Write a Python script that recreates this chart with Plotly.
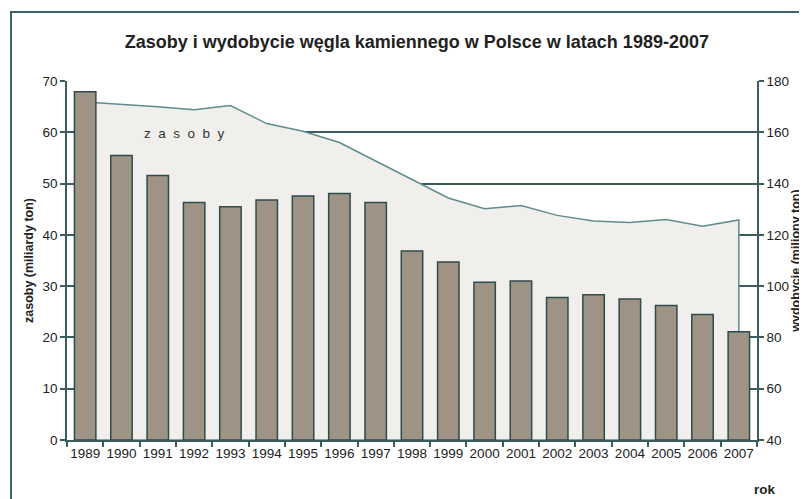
import plotly.graph_objects as go

years = ["1989", "1990", "1991", "1992", "1993", "1994", "1995", "1996", "1997", "1998",
         "1999", "2000", "2001", "2002", "2003", "2004", "2005", "2006", "2007"]
# wydobycie (miliony ton) - bars, right axis
wydobycie = [175.8, 150.9, 143.1, 132.6, 131.0, 133.6, 135.2, 136.1, 132.6, 113.7,
             109.4, 101.5, 102.0, 95.6, 96.6, 95.0, 92.5, 88.9, 82.2]
# zasoby (miliardy ton) - area, left axis
zasoby = [65.9, 65.5, 65.0, 64.4, 65.2, 61.7, 60.2, 58.0, 54.4, 50.8,
          47.2, 45.1, 45.7, 43.8, 42.7, 42.4, 43.0, 41.7, 42.9]

left_ticks = [0, 10, 20, 30, 40, 50, 60, 70]
right_ticks = [40, 60, 80, 100, 120, 140, 160, 180]
RIGHT_MIN = 40

DARK = "#3a5c5c"
FONT = "Liberation Sans, Arial, Helvetica, sans-serif"

fig = go.Figure()

# area as closed polygon (so that the right edge is outlined)
fig.add_trace(go.Scatter(
    x=years + [years[-1], years[0]],
    y=zasoby + [0, 0],
    mode="lines",
    fill="toself",
    fillcolor="#f0efeb",
    line=dict(color="#5f8c8c", width=1.5),
    yaxis="y",
    hoverinfo="skip",
    showlegend=False,
))

fig.add_trace(go.Bar(
    x=years,
    y=[v - RIGHT_MIN for v in wydobycie],
    base=RIGHT_MIN,
    yaxis="y2",
    marker=dict(color="#9f9385", line=dict(color="#2f4b4b", width=1.5)),
    showlegend=False,
))

# page body has an 8px margin -> figure sized/placed to compensate
fig.update_layout(
    width=799, height=491,
    margin=dict(l=59, r=50, t=73, b=59),
    paper_bgcolor="white",
    plot_bgcolor="white",
    bargap=0.41,
    font=dict(family=FONT, size=13, color="#222222"),
    title=dict(
        text="<b>Zasoby i wydobycie węgla kamiennego w Polsce w latach 1989-2007</b>",
        x=0.507, xanchor="center", xref="paper",
        y=1 - 34 / 491, yanchor="middle", yref="container",
        font=dict(family=FONT, size=18, color="#222222"),
    ),
    xaxis=dict(
        type="category",
        categoryorder="array", categoryarray=years,
        tickson="boundaries", tickangle=0, automargin=False,
        ticks="outside", ticklen=5, tickcolor=DARK, tickwidth=1.5,
        showline=True, linecolor=DARK, linewidth=1.5,
        showgrid=False,
        tickfont=dict(size=13.5, family=FONT, color="#222222"),
    ),
    yaxis=dict(
        range=[0, 70], tickvals=left_ticks, automargin=False,
        ticks="outside", ticklen=5, tickcolor=DARK, tickwidth=1.5,
        showline=True, linecolor=DARK, linewidth=1.5,
        showgrid=True, gridcolor=DARK, gridwidth=1.5,
        zeroline=False,
        tickfont=dict(size=13.5, family=FONT, color="#222222"),
        title=dict(text="<b>zasoby (miliardy ton)</b>", standoff=6,
                   font=dict(size=12.5, family=FONT, color="#222222")),
    ),
    yaxis2=dict(
        range=[40, 180], tickvals=right_ticks, automargin=False,
        overlaying="y", side="right",
        ticks="outside", ticklen=5, tickcolor=DARK, tickwidth=1.5,
        showline=True, linecolor=DARK, linewidth=1.5,
        showgrid=False, zeroline=False,
        tickfont=dict(size=13.5, family=FONT, color="#222222"),
        title=dict(text="<b>wydobycie (miliony ton)</b>", standoff=2,
                   font=dict(size=12.5, family=FONT, color="#222222")),
    ),
    annotations=[
        dict(text="z\u00a0\u00a0a\u00a0\u00a0s\u00a0\u00a0o\u00a0\u00a0b\u00a0\u00a0y",
             x=0.171, y=0.855, xref="paper", yref="paper",
             xanchor="center", yanchor="middle",
             showarrow=False, font=dict(size=13.5, family=FONT, color="#333333")),
        dict(text="<b>rok</b>", x=1.0116, y=-0.1365, xref="paper", yref="paper",
             xanchor="center", yanchor="middle",
             showarrow=False, font=dict(size=13.5, family=FONT, color="#222222")),
    ],
    shapes=[
        dict(type="rect", xref="paper", yref="paper",
             x0=-0.0812, x1=1.3, y0=-0.4, y1=1.192,
             line=dict(color="#3a6666", width=2), fillcolor="rgba(0,0,0,0)",
             layer="below"),
    ],
)

fig.write_html("out.html")
